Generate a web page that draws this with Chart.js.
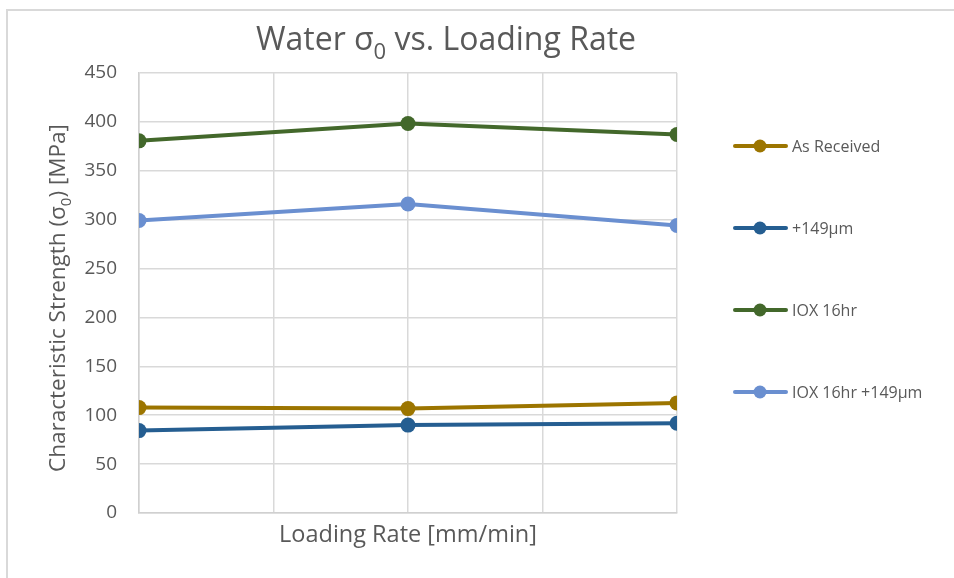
<!DOCTYPE html>
<html>
<head>
<meta charset="utf-8">
<script src="https://cdn.jsdelivr.net/npm/chart.js@4/dist/chart.umd.min.js"></script>
<style>
  html, body { margin: 0; padding: 0; background: #fff; overflow: hidden; }
  #wrap { width: 954px; height: 578px; position: relative; }
</style>
</head>
<body>
<div id="wrap"><canvas id="c" width="954" height="578"></canvas></div>
<script>
// Loading-rate positions (x) and characteristic strength values (MPa)
const loadingRates = [1, 2, 3];
const seriesNames = ['As Received', '+149µm', 'IOX 16hr', 'IOX 16hr +149µm'];
const asReceived = [107.8, 106.8, 112.6];
const plus149 = [84.3, 89.9, 91.8];
const iox16 = [380.6, 398.4, 387.1];
const iox16plus149 = [299.1, 316.0, 294.0];
const yTickValues = [0, 50, 100, 150, 200, 250, 300, 350, 400, 450];

const seriesValues = [asReceived, plus149, iox16, iox16plus149];
const seriesColors = ['#9C7500', '#255E91', '#43682B', '#6A8FD0'];

const FONT = '"Open Sans", Lato, "Liberation Sans", sans-serif';
const TEXT = '#595959';

// Draws text with a subscript segment, e.g. σ₀
function richWidth(ctx, parts, size) {
  let w = 0;
  for (const p of parts) {
    ctx.font = (p.sub ? Math.round(size * 0.68) : size) + 'px ' + FONT;
    w += ctx.measureText(p.t).width;
  }
  return w;
}
function drawRich(ctx, parts, x, y, size) {
  const total = richWidth(ctx, parts, size);
  let cx = x - total / 2;
  ctx.textAlign = 'left';
  ctx.textBaseline = 'alphabetic';
  for (const p of parts) {
    const s = p.sub ? Math.round(size * 0.68) : size;
    ctx.font = s + 'px ' + FONT;
    ctx.fillText(p.t, cx, p.sub ? y + size * 0.28 : y);
    cx += ctx.measureText(p.t).width;
  }
}

const framePlugin = {
  id: 'frame',
  beforeDraw(chart) {
    const ctx = chart.ctx;
    ctx.save();
    ctx.fillStyle = '#ffffff';
    ctx.fillRect(0, 0, chart.width, chart.height);
    ctx.strokeStyle = '#d9d9d9';
    ctx.lineWidth = 2;
    ctx.beginPath();
    ctx.moveTo(7, chart.height);
    ctx.lineTo(7, 10);
    ctx.lineTo(chart.width, 10);
    ctx.stroke();
    ctx.restore();
  }
};

const textPlugin = {
  id: 'richText',
  afterDraw(chart) {
    const ctx = chart.ctx;
    ctx.save();
    ctx.fillStyle = TEXT;
    // chart title
    drawRich(ctx, [{ t: 'Water σ' }, { t: '0', sub: true }, { t: ' vs. Loading Rate' }], 446, 50, 32);
    // y-axis title
    ctx.translate(65, 298);
    ctx.rotate(-Math.PI / 2);
    drawRich(ctx, [{ t: 'Characteristic Strength (σ' }, { t: '0', sub: true }, { t: ') [MPa]' }], 0, 0, 22.5);
    ctx.restore();

    // legend
    const rows = [146, 228, 310, 392];
    ctx.save();
    chart.data.datasets.forEach((ds, i) => {
      const y = rows[i];
      ctx.strokeStyle = ds.borderColor;
      ctx.lineWidth = 4;
      ctx.lineCap = 'round';
      ctx.beginPath();
      ctx.moveTo(735, y);
      ctx.lineTo(786, y);
      ctx.stroke();
      ctx.fillStyle = ds.borderColor;
      ctx.beginPath();
      ctx.arc(760, y, 6.5, 0, Math.PI * 2);
      ctx.fill();
      ctx.fillStyle = TEXT;
      ctx.font = '16px ' + FONT;
      ctx.textAlign = 'left';
      ctx.textBaseline = 'middle';
      ctx.fillText(ds.label, 792, y + 1);
    });
    ctx.restore();
  }
};

const datasets = seriesNames.map((name, i) => ({
  label: name,
  data: loadingRates.map((x, j) => ({ x: x, y: seriesValues[i][j] })),
  borderColor: seriesColors[i],
  backgroundColor: seriesColors[i],
  pointBackgroundColor: seriesColors[i],
  pointBorderColor: seriesColors[i],
  borderWidth: 4,
  pointRadius: 7.5,
  pointBorderWidth: 0,
  tension: 0
}));

new Chart(document.getElementById('c'), {
  type: 'line',
  data: { datasets: datasets },
  options: {
    responsive: false,
    animation: false,
    devicePixelRatio: 1,
    layout: { padding: { top: 73, right: 277, bottom: 0, left: 0 } },
    plugins: {
      legend: { display: false },
      title: { display: false },
      tooltip: { enabled: false }
    },
    scales: {
      x: {
        type: 'linear',
        min: 1,
        max: 3,
        ticks: { display: false, stepSize: 0.5 },
        grid: { color: '#d9d9d9', lineWidth: 1.5, drawTicks: false },
        border: { color: '#d0d0d0', width: 1.5 },
        title: {
          display: true,
          text: 'Loading Rate [mm/min]',
          color: TEXT,
          font: { family: FONT, size: 23.5 },
          padding: { top: 0, bottom: 29 }
        },
        afterFit(scale) { scale.height = 65; }
      },
      y: {
        min: 0,
        max: 450,
        afterBuildTicks(scale) { scale.ticks = yTickValues.map(v => ({ value: v })); },
        ticks: { color: TEXT, font: { family: FONT, size: 19 }, padding: 22 },
        grid: { color: '#d9d9d9', lineWidth: 1.5, drawTicks: false },
        border: { color: '#d0d0d0', width: 1.5 },
        afterFit(scale) { scale.width = 139; }
      }
    }
  },
  plugins: [framePlugin, textPlugin]
});
</script>
</body>
</html>
